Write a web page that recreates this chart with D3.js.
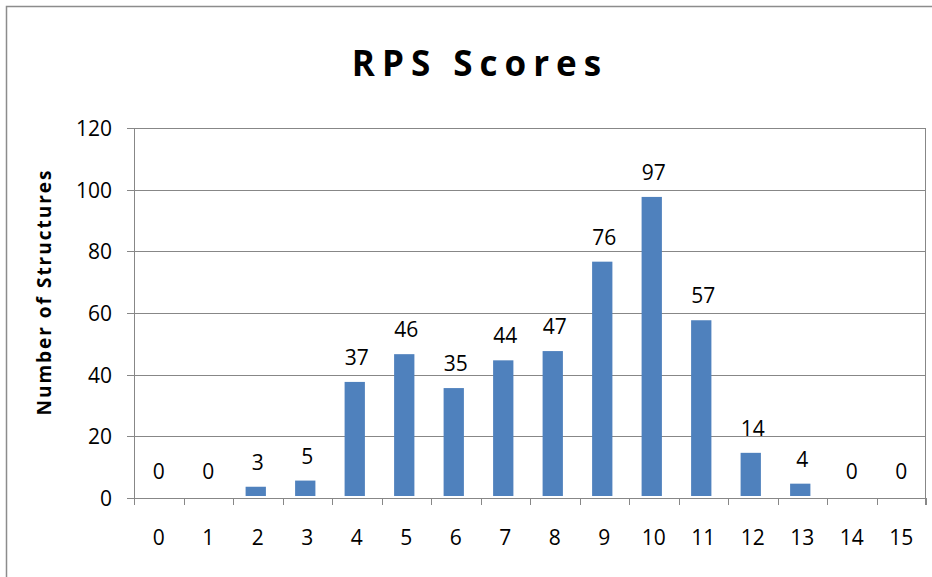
<!doctype html>
<title>RPS Scores</title>
<script src="https://cdnjs.cloudflare.com/ajax/libs/d3/7.8.5/d3.min.js"></script>
<style>
body, html {
  margin: 0;
  background: #fff;
}
svg text {
  font-family: "Open Sans", Lato, sans-serif;
}
</style>
<div id="chart"></div>
<script>
var scores = ["0","1","2","3","4","5","6","7","8","9","10","11","12","13","14","15"];
var counts = [0, 0, 3, 5, 37, 46, 35, 44, 47, 76, 97, 57, 14, 4, 0, 0];
var yTicks = [0, 20, 40, 60, 80, 100, 120];

var width = 932, height = 577;
var margin = {top: 128, left: 134, right: 6, bottom: 79};
var plotW = width - margin.right - margin.left;

var svg = d3.select('#chart')
  .append('svg')
  .attr('width', width)
  .attr('height', height);

// outer chart frame
svg.append('path')
  .attr('d', 'M6.5,' + height + 'V6.5H' + width)
  .attr('fill', 'none')
  .attr('stroke', '#8c8c8c')
  .attr('stroke-width', 1.5);

var x = d3.scaleBand()
  .domain(scores)
  .range([margin.left, width - margin.right])
  .paddingInner(0.59)
  .paddingOuter(0.295);

var y = d3.scaleLinear()
  .domain([0, 120])
  .range([height - margin.bottom, margin.top]);

// gridlines
svg.append('g')
  .selectAll('line')
  .data(yTicks)
  .join('line')
  .attr('x1', margin.left - 7)
  .attr('x2', width - margin.right)
  .attr('y1', d => Math.round(y(d)) + 0.5)
  .attr('y2', d => Math.round(y(d)) + 0.5)
  .attr('stroke', '#878787');

// plot area left + right border
svg.append('line')
  .attr('x1', margin.left + 0.5).attr('x2', margin.left + 0.5)
  .attr('y1', y(120)).attr('y2', y(0) + 7)
  .attr('stroke', '#878787');
svg.append('line')
  .attr('x1', width - margin.right - 0.5).attr('x2', width - margin.right - 0.5)
  .attr('y1', y(120)).attr('y2', y(0) + 7)
  .attr('stroke', '#878787');

// x ticks between categories
svg.append('g')
  .selectAll('line')
  .data(d3.range(scores.length + 1))
  .join('line')
  .attr('x1', i => Math.round(margin.left + i * plotW / scores.length) + 0.5)
  .attr('x2', i => Math.round(margin.left + i * plotW / scores.length) + 0.5)
  .attr('y1', y(0))
  .attr('y2', y(0) + 7)
  .attr('stroke', '#878787');

// y tick labels
svg.append('g')
  .selectAll('text')
  .data(yTicks)
  .join('text')
  .attr('x', 112)
  .attr('y', d => y(d) + 8)
  .attr('text-anchor', 'end')
  .attr('font-size', 21)
  .text(d => d);

// x tick labels
svg.append('g')
  .selectAll('text')
  .data(scores)
  .join('text')
  .attr('x', (d, i) => margin.left + (i + 0.5) * plotW / scores.length)
  .attr('y', 545)
  .attr('text-anchor', 'middle')
  .attr('font-size', 21)
  .text(d => d);

// bars (Excel draws them a couple of px above the axis)
svg.append('g')
  .selectAll('rect')
  .data(counts)
  .join('rect')
  .attr('x', (d, i) => x(scores[i]) - 2)
  .attr('width', x.bandwidth())
  .attr('y', d => y(d) - 2)
  .attr('height', d => y(0) - y(d))
  .attr('fill', '#4f81bd');

// value labels
svg.append('g')
  .selectAll('text')
  .data(counts)
  .join('text')
  .attr('x', (d, i) => x(scores[i]) + x.bandwidth() / 2)
  .attr('y', d => y(d) - 19)
  .attr('text-anchor', 'middle')
  .attr('font-size', 21)
  .text(d => d);

// title
svg.append('text')
  .attr('x', 480)
  .attr('y', 76)
  .attr('text-anchor', 'middle')
  .attr('font-size', 35)
  .attr('font-weight', 'bold')
  .attr('letter-spacing', 7)
  .text('RPS Scores');

// y axis title
svg.append('text')
  .attr('transform', 'translate(51,292) rotate(-90)')
  .attr('text-anchor', 'middle')
  .attr('font-size', 19)
  .attr('font-weight', 'bold')
  .attr('letter-spacing', 2)
  .text('Number of Structures');
</script>
